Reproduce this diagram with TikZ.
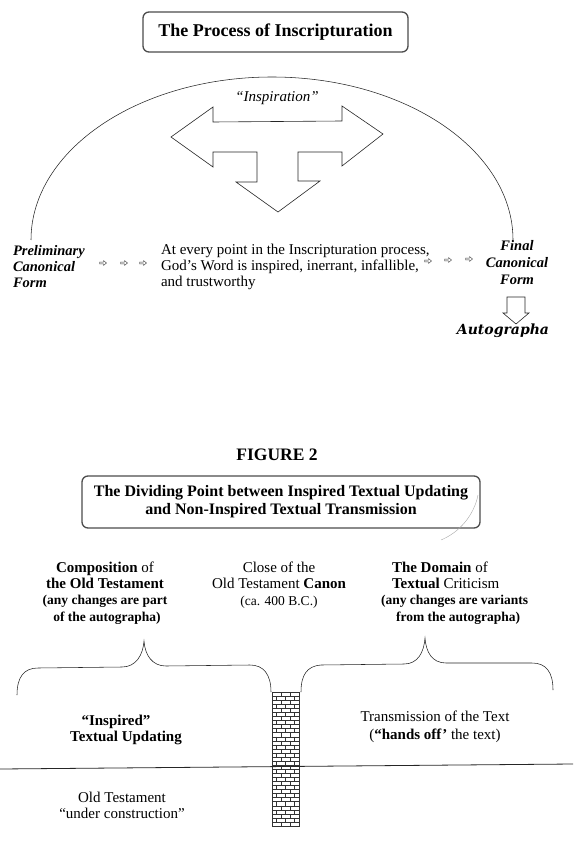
\documentclass[tikz,border=0pt]{standalone}
\usepackage{fontspec}
\setmainfont{Liberation Serif}
\newfontfamily\autofont{DejaVu Serif}
\newcommand{\smallharrow}[2]{%
  \draw[line width=0.4pt,draw=black!80] (#1-3.5,#2-0.9) -- (#1+0.5,#2-0.9) -- (#1+0.5,#2-2.4) -- (#1+3.5,#2) -- (#1+0.5,#2+2.4) -- (#1+0.5,#2+0.9) -- (#1-3.5,#2+0.9) -- cycle;}
\begin{document}
\begin{tikzpicture}[x=1pt,y=-1pt,
  txt/.style={inner sep=0pt,outer sep=0pt},
  fifteen/.style={txt,font=\fontsize{15}{16}\selectfont},
  colfont/.style={txt,font=\fontsize{15}{16.3}\selectfont},
  thinline/.style={line width=0.55pt,draw=black!85},
  roundbox/.style={draw=black!70,line width=1.3pt,rounded corners=6pt,inner sep=0pt,align=center},
  blockarrow/.style={line width=0.6pt,draw=black!85,line join=miter},
  brick/.style={line width=0.35pt,draw=black!80}
]
\useasboundingbox (0,0) rectangle (588,858);

% ---------- Part 1 ----------
\node[roundbox,minimum width=265pt,minimum height=40pt,font=\fontsize{18}{20}\selectfont\bfseries]
  (title) at (275.5,32) {The Process of Inscripturation};

\draw[thinline] (31,240) arc[start angle=180,end angle=360,x radius=241,y radius=163];

\node[txt,font=\fontsize{15}{16}\selectfont\itshape] (insp) at (277,98) {“Inspiration”};

\draw[blockarrow] (171,137) -- (213,107) -- (213,122) -- (342,121) -- (342,106) -- (383,134)
  -- (342,166) -- (342,152) -- (298,152) -- (298,181) -- (320,181) -- (278,212)
  -- (236,182) -- (257,182) -- (257,152) -- (213,152) -- (213,167) -- cycle;

\node[txt,font=\fontsize{14.5}{16}\selectfont\bfseries\itshape,anchor=west,align=left]
  (prelim) at (13,267) {Preliminary\\Canonical\\Form};

\node[fifteen,anchor=west,align=left] (every) at (161,267)
  {At every point in the Inscripturation process,\\God’s Word is inspired, inerrant, infallible,\\and trustworthy};

\smallharrow{103}{263}
\smallharrow{124}{263}
\smallharrow{143}{263}
\smallharrow{428}{261}
\smallharrow{448}{260}
\smallharrow{469}{259}

\node[txt,font=\fontsize{14.5}{17}\selectfont\bfseries\itshape,align=center]
  (final) at (517,263) {Final\\Canonical\\Form};

\draw[blockarrow] (507,297) -- (525,297) -- (525,313) -- (529,313) -- (516,324)
  -- (503,313) -- (507,313) -- cycle;

\node[txt,font=\fontsize{14}{16}\autofont\bfseries\itshape] (auto) at (503,331) {Autographa};

% ---------- Figure 2 ----------
\node[txt,font=\fontsize{17.5}{20}\selectfont\bfseries] (fig) at (277,455) {FIGURE 2};

\node[roundbox,minimum width=398pt,minimum height=52pt,font=\fontsize{16}{18}\selectfont\bfseries]
  (divide) at (281,502) {The Dividing Point between Inspired Textual Updating\\and Non-Inspired Textual Transmission};

\draw[line width=0.4pt,draw=black!35] (478,495) .. controls (474,515) and (460,532) .. (441,540);

\node[colfont,align=center] (colA) at (105,593)
  {\textbf{Composition} of\\\textbf{the Old Testament}\\
   {\fontsize{13.5}{16.3}\selectfont\bfseries (any changes are part}\\
   {\fontsize{13.5}{16.3}\selectfont\bfseries \hspace*{4pt}of the autographa)}};

\node[colfont,align=center] (colB) at (279,585)
  {Close of the\\Old Testament \textbf{Canon}\\{\fontsize{13.5}{16.3}\selectfont (ca. 400 B.C.)}};

\node[colfont,anchor=west,align=left] (colC) at (381,593)
  {\hspace*{11pt}\textbf{The Domain} of\\\hspace*{11pt}\textbf{Textual} Criticism\\
   {\fontsize{13.5}{16.3}\selectfont\bfseries (any changes are variants}\\
   {\fontsize{13.5}{16.3}\selectfont\bfseries \hspace*{15pt}from the autographa)}};

% braces
\draw[thinline] (17,695) .. controls (17,677) and (24,668) .. (38,668) -- (122,667)
  .. controls (136,667) and (143,655) .. (144,641)
  .. controls (145,655) and (152,666) .. (166,666) -- (250,665)
  .. controls (264,665) and (271,675) .. (271,692);
\draw[thinline] (301,692) .. controls (301,675) and (307,666) .. (321,665) -- (404,664)
  .. controls (418,664) and (424,652) .. (425,638)
  .. controls (426,652) and (432,663) .. (446,663) -- (532,663)
  .. controls (546,663) and (553,672) .. (553,690);

% brick column
\draw[brick,line width=0.5pt] (272,692) rectangle (299,826);
\foreach \r in {1,...,32} \draw[brick] (272,{692+\r*134/33}) -- (299,{692+\r*134/33});
\foreach \r in {0,2,...,32} \foreach \xx in {281,290}
  \draw[brick] (\xx,{692+\r*134/33}) -- (\xx,{692+(\r+1)*134/33});
\foreach \r in {1,3,...,31} \foreach \xx in {276.5,285.5,294.5}
  \draw[brick] (\xx,{692+\r*134/33}) -- (\xx,{692+(\r+1)*134/33});

\draw[line width=0.8pt,draw=black!85] (0,769) -- (573,764);

\node[colfont,align=center,font=\fontsize{15}{16.5}\selectfont\bfseries] (upd) at (126,730)
  {\hspace*{-20pt}“Inspired”\\Textual Updating};
\node[colfont,align=center,font=\fontsize{15}{18}\selectfont] (trans) at (435,727)
  {Transmission of the Text\\(\textbf{“hands off’} the text)};
\node[colfont,align=center,font=\fontsize{15}{16}\selectfont] (otuc) at (122,805)
  {Old Testament\\“under construction”};
\end{tikzpicture}
\end{document}
